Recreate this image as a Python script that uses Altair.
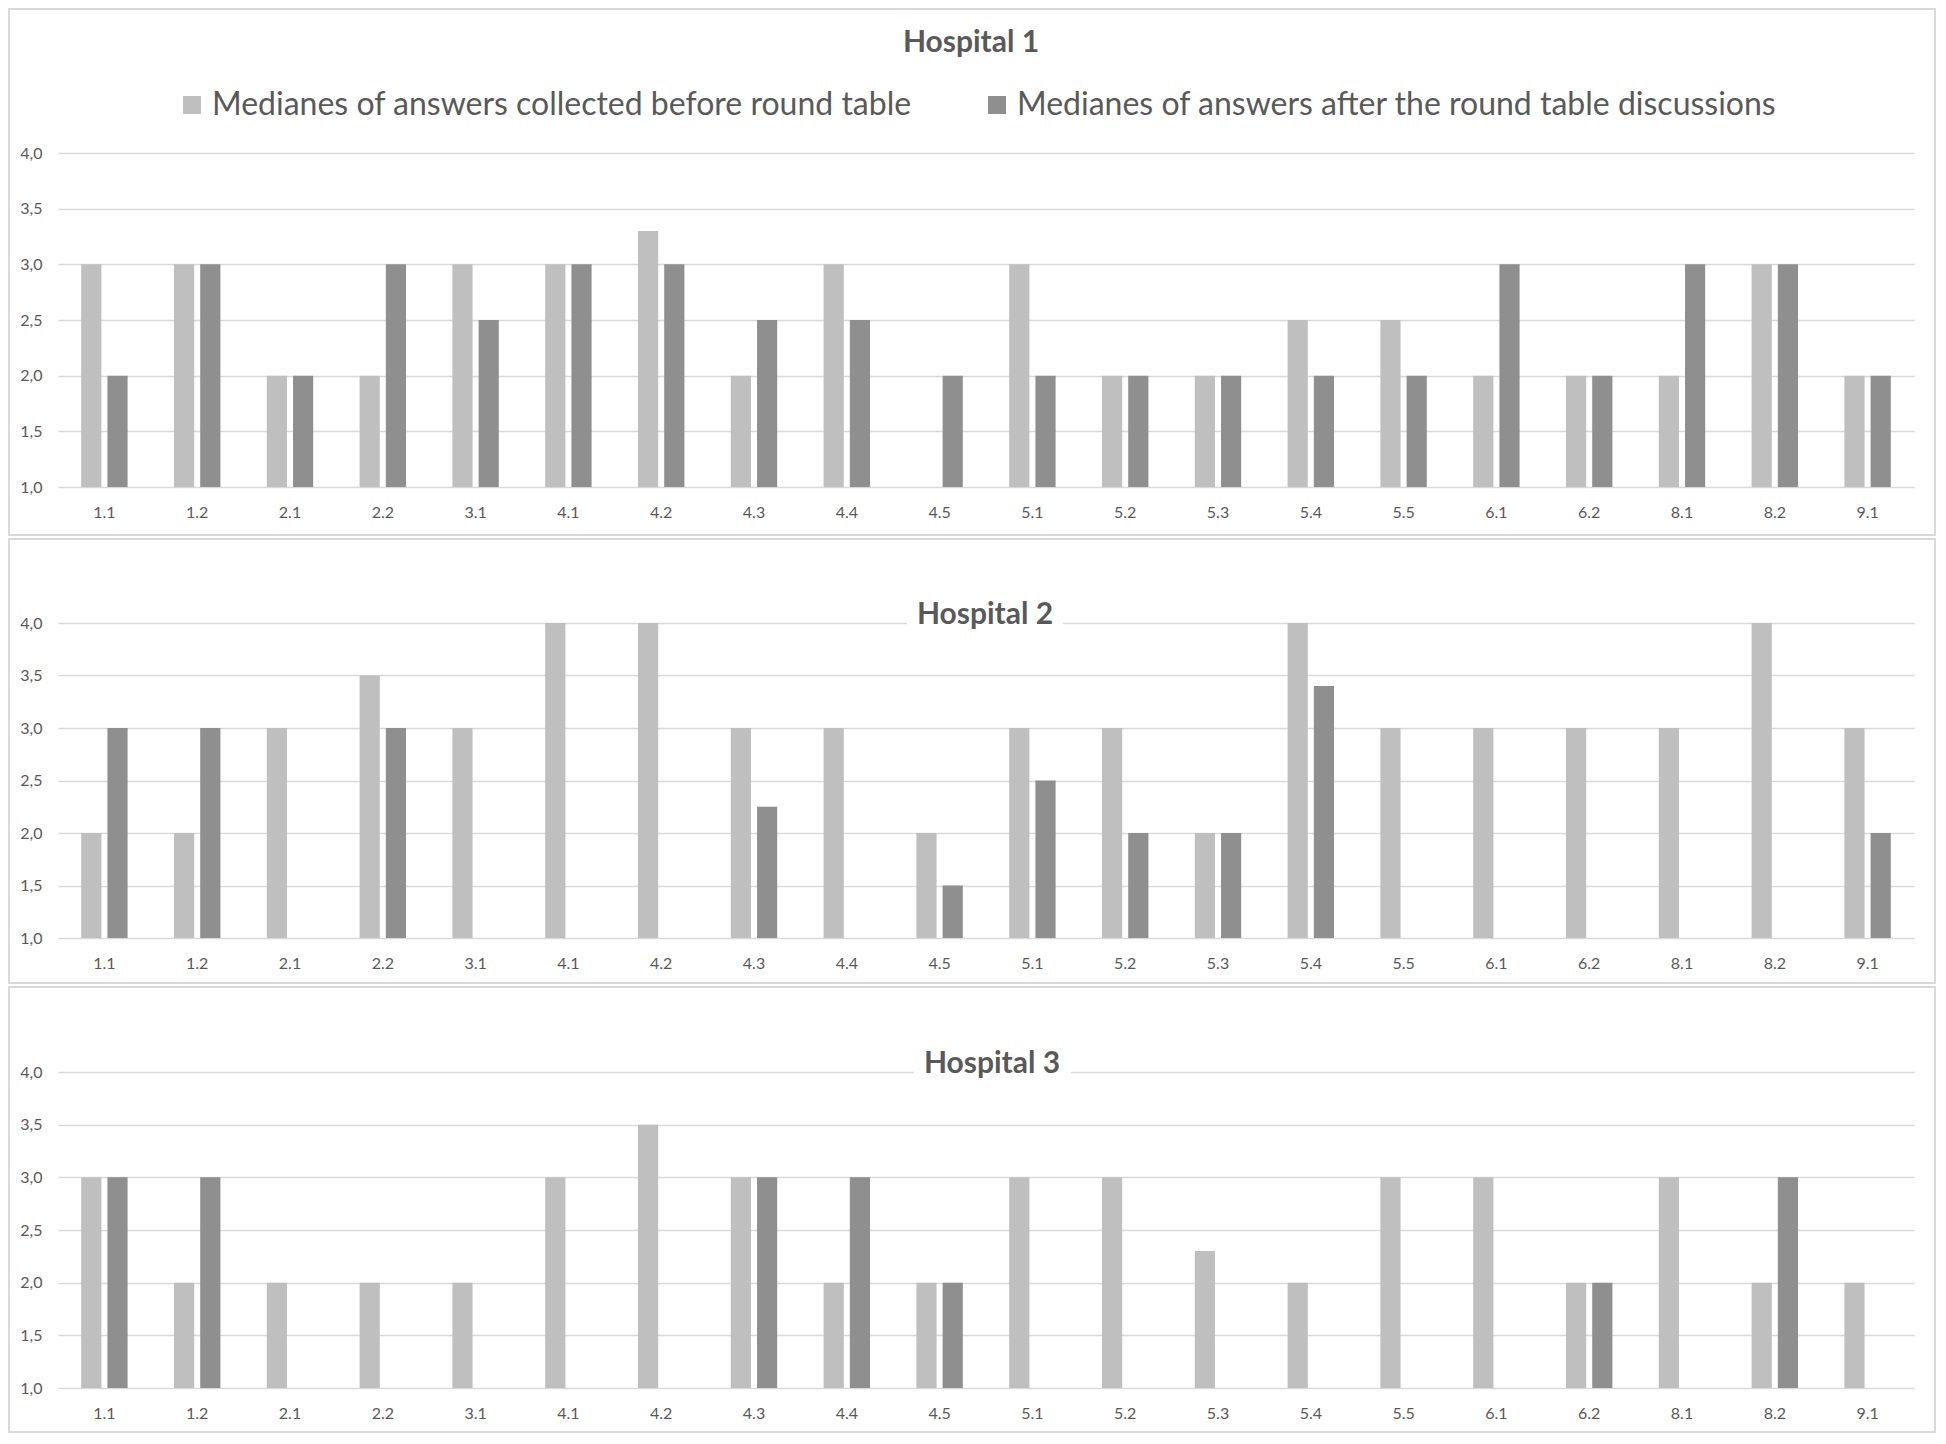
import altair as alt
import pandas as pd

categories = ["1.1", "1.2", "2.1", "2.2", "3.1", "4.1", "4.2", "4.3", "4.4", "4.5",
              "5.1", "5.2", "5.3", "5.4", "5.5", "6.1", "6.2", "8.1", "8.2", "9.1"]
series_names = ["Medianes of answers collected before round table",
                "Medianes of answers after the round table discussions"]
series_colors = ["#BFBFBF", "#8F8F8F"]
y_ticks = [1.0, 1.5, 2.0, 2.5, 3.0, 3.5, 4.0]

h1_before = [3, 3, 2, 2, 3, 3, 3.3, 2, 3, None, 3, 2, 2, 2.5, 2.5, 2, 2, 2, 3, 2]
h1_after = [2, 3, 2, 3, 2.5, 3, 3, 2.5, 2.5, 2, 2, 2, 2, 2, 2, 3, 2, 3, 3, 2]
h2_before = [2, 2, 3, 3.5, 3, 4, 4, 3, 3, 2, 3, 3, 2, 4, 3, 3, 3, 3, 4, 3]
h2_after = [3, 3, None, 3, None, None, None, 2.25, None, 1.5, 2.5, 2, 2, 3.4,
            None, None, None, None, None, 2]
h3_before = [3, 2, 2, 2, 2, 3, 3.5, 3, 2, 2, 3, 3, 2.3, 2, 3, 3, 2, 3, 2, 2]
h3_after = [3, 3, None, None, None, None, None, 3, 3, 2, None, None, None, None,
            None, None, 2, None, 3, None]
titles = ["Hospital 1", "Hospital 2", "Hospital 3"]

W = 1856
TEXT = "#595959"
FONT = "Lato"


def panel(before, after, title, H, top, bottom, title_x, title_y, gap=None, show_legend=False):
    rows = []
    for c, b, a in zip(categories, before, after):
        if b is not None:
            rows.append({"item": c, "series": series_names[0], "value": b})
        if a is not None:
            rows.append({"item": c, "series": series_names[1], "value": a})
    df = pd.DataFrame(rows)

    one = pd.DataFrame({"t": [title]})

    border = alt.Chart(one).mark_rect(
        fill="transparent", stroke="#D9D9D9", strokeWidth=2
    ).encode(
        x=alt.value(-49), x2=alt.value(W + 21),
        y=alt.value(top + 1), y2=alt.value(H + bottom - 1),
    )

    if show_legend:
        legend = alt.Legend(
            orient="none", legendX=118, legendY=-64, direction="horizontal",
            title=None, symbolType="square", symbolSize=324, symbolStrokeWidth=0,
            symbolOpacity=1, labelFontSize=32, labelFont=FONT, labelColor=TEXT,
            labelOffset=4, labelLimit=1500, columnPadding=69, padding=0,
        )
    else:
        legend = None

    bars = alt.Chart(df).mark_bar().encode(
        x=alt.X(
            "item:N", sort=categories,
            scale=alt.Scale(domain=categories, paddingInner=0.5, paddingOuter=0.25),
            axis=alt.Axis(title=None, labelAngle=0, ticks=False, domain=False,
                          labelPadding=17, labelFontSize=16, labelFont=FONT,
                          labelColor=TEXT, grid=False),
        ),
        xOffset=alt.XOffset(
            "series:N",
            scale=alt.Scale(domain=series_names, paddingInner=0.23, paddingOuter=0),
        ),
        y=alt.Y(
            "value:Q",
            scale=alt.Scale(domain=[1, 4], nice=False, zero=False),
            axis=alt.Axis(title=None, values=y_ticks,
                          labelExpr="replace(format(datum.value, '.1f'), '.', ',')",
                          ticks=False, domain=False, grid=True, gridColor="#D9D9D9",
                          gridWidth=1.5, labelPadding=16, labelFontSize=16,
                          labelFont=FONT, labelColor=TEXT),
        ),
        y2=alt.datum(1),
        color=alt.Color("series:N",
                        scale=alt.Scale(domain=series_names, range=series_colors),
                        legend=legend),
    )

    layers = [border, bars]
    if gap is not None:
        white = alt.Chart(one).mark_rect(fill="white").encode(
            x=alt.value(gap[0]), x2=alt.value(gap[1]),
            y=alt.value(-27), y2=alt.value(3),
        )
        layers.append(white)

    ttl = alt.Chart(one).mark_text(
        font=FONT, fontSize=30, fontWeight="bold", color=TEXT,
        align="center", baseline="alphabetic",
    ).encode(
        text="t:N", x=alt.value(title_x), y=alt.value(title_y),
    )
    layers.append(ttl)

    return alt.layer(*layers).properties(width=W, height=H)


p1 = panel(h1_before, h1_after, titles[0], 334, -145, 49, 913, -101, show_legend=True)
p2 = panel(h2_before, h2_after, titles[1], 315, -85, 46, 927, 1, gap=(849, 1005))
p3 = panel(h3_before, h3_after, titles[2], 316, -86, 45, 934, 1, gap=(856, 1013))

chart = alt.vconcat(p1, p2, p3, spacing=2).resolve_scale(
    color="independent"
).resolve_legend(
    color="independent"
).properties(
    padding=0
).configure_view(
    strokeWidth=0
)

chart.save("out.html", embed_options={"renderer": "svg", "actions": False})
